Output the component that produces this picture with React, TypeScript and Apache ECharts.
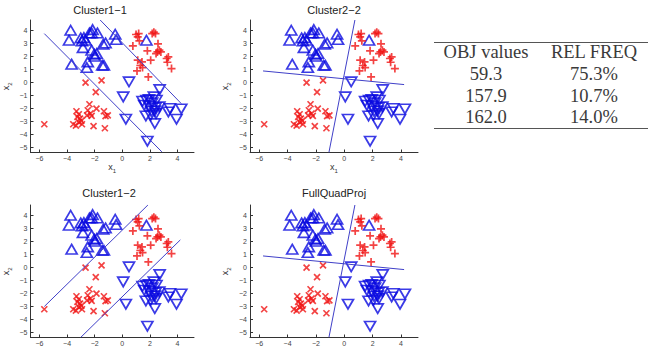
import React, { useEffect, useRef } from "react";
import * as echarts from "echarts";

// ---- data (same points in every panel) ----
const upTriangles: number[][] = [
  [-3.74, 4.01], [-3.86, 3.24], [-3.67, 1.39], [-3.01, 3.42], [-2.78, 3.44],
  [-2.92, 3.19], [-2.66, 3.24], [-2.85, 2.67], [-2.38, 3.8], [-2.15, 4.06],
  [-2.22, 3.8], [-1.8, 3.8], [-2.22, 2.47], [-2.03, 2.16], [-1.85, 2.21],
  [-1.99, 2.0], [-2.5, 1.57], [-2.57, 1.13], [-1.38, 2.93], [-1.21, 3.03],
  [-1.45, 1.31], [-1.33, 1.31], [-0.51, 3.7], [-0.44, 3.29], [1.75, 3.24],
];
const downTriangles: number[][] = [
  [0.49, 0.03], [0.07, -1.13], [0.26, -2.85], [1.82, -4.55], [2.71, -0.57],
  [1.47, -1.47], [1.75, -1.39], [1.94, -1.34], [2.29, -1.13], [2.48, -1.39],
  [1.59, -1.77], [1.94, -1.85], [2.17, -1.59], [2.41, -1.98], [2.69, -1.9],
  [2.1, -2.24], [2.36, -2.21], [1.71, -2.6], [2.45, -2.42], [2.36, -3.19],
  [3.46, -2.03], [3.34, -2.29], [4.28, -2.06], [3.93, -2.85], [2.06, -2.55],
];
const redCrosses: number[][] = [
  [-5.65, -3.24], [-2.66, -0.03], [-1.5, 0.15], [-1.92, -0.77], [-3.32, -2.24],
  [-3.15, -2.47], [-3.25, -2.67], [-3.06, -2.8], [-2.97, -2.98], [-2.92, -3.24],
  [-3.55, -3.24], [-3.36, -3.34], [-3.15, -3.08], [-2.38, -1.7], [-2.5, -2.16],
  [-2.31, -2.42], [-2.22, -2.6], [-2.55, -2.55], [-1.87, -2.03], [-2.08, -3.39],
  [-1.33, -2.24], [-1.21, -2.62], [-1.05, -2.55], [-1.26, -3.55],
];
const redPluses: number[][] = [
  [1.0, 3.68], [1.19, 3.75], [1.12, 3.5], [0.77, 2.8], [1.24, 3.19],
  [2.17, 3.75], [2.29, 3.86], [2.41, 3.75], [2.59, 2.96], [2.55, 2.34],
  [2.69, 2.47], [2.8, 2.34], [2.45, 2.21], [1.82, 2.42], [1.12, 1.7],
  [1.43, 1.57], [1.31, 1.29], [1.07, 0.87], [2.06, 1.7], [1.89, 0.41],
  [3.22, 1.83], [3.34, 1.95], [3.27, 1.54], [3.57, 1.05], [1.47, 1.13],
];

// separating lines per panel (end points in data units)
const linesCluster11: number[][][] = [
  [[-5.65, 3.75], [2.87, -5.37]],
  [[-1.6, 4.8], [4.28, -1.65]],
];
const linesCluster22: number[][][] = [
  [[0.75, 4.8], [-1.08, -5.4]],
  [[-5.73, 0.87], [4.22, -0.18]],
];
const linesCluster12: number[][][] = [
  [[-5.65, -3.03], [1.86, 4.8]],
  [[-3.0, -5.4], [4.21, 2.11]],
];
const linesFullQuad: number[][][] = [
  [[0.75, 4.8], [-1.08, -5.4]],
  [[-5.73, 0.87], [4.22, -0.18]],
];

const panelTitles = ["Cluster1\u22121", "Cluster2\u22122", "Cluster1\u22122", "FullQuadProj"];
const xTicks = [-6, -4, -2, 0, 2, 4];
const yTicks = [-5, -4, -3, -2, -1, 0, 1, 2, 3, 4];

const tableHeader = ["OBJ values", "REL FREQ"];
const objValues = ["59.3", "157.9", "162.0"];
const relFreq = ["75.3%", "10.7%", "14.0%"];

const BLUE = "#0a0ae0";
const LINEBLUE = "#4040c8";
const RED = "#f01414";
const AXIS = "#333333";

export default function App() {
  const ref = useRef<HTMLDivElement>(null);

  useEffect(() => {
    if (!ref.current) return;
    const chart = echarts.init(ref.current, null, { renderer: "svg" });

    const grids = [
      { left: 24, top: 20, width: 170, height: 132.5 },
      { left: 250, top: 20, width: 168, height: 132.5 },
      { left: 24, top: 205, width: 170, height: 132.5 },
      { left: 250, top: 205, width: 168, height: 132.5 },
    ];
    const panelLines = [linesCluster11, linesCluster22, linesCluster12, linesFullQuad];
    const titlePos = [[100, 10], [334, 10], [109, 193], [334, 193]];

    const minus = (v: number) => String(v).replace("-", "\u2212");
    const labelRich = {
      i: { fontSize: 9, fontFamily: "Liberation Sans", color: "#333", lineHeight: 14, verticalAlign: "middle" },
      s: { fontSize: 6, fontFamily: "Liberation Sans", color: "#333", lineHeight: 6, verticalAlign: "bottom" },
    };

    const xAxis: any[] = [];
    const yAxis: any[] = [];
    const series: any[] = [];

    grids.forEach((g, k) => {
      const top = k < 2;
      xAxis.push({
        type: "value",
        gridIndex: k,
        min: -6.65,
        max: 5.2,
        name: top ? "{i|x}{s|1}" : "",
        nameLocation: "middle",
        nameGap: 7,
        nameTextStyle: { rich: labelRich },
        axisLine: { show: true, onZero: false, lineStyle: { color: AXIS, width: 1 } },
        axisTick: { show: true, inside: true, length: 3, customValues: xTicks, lineStyle: { color: AXIS } },
        axisLabel: {
          customValues: xTicks,
          fontSize: 7,
          fontFamily: "Liberation Sans",
          color: "#444",
          margin: 2,
          formatter: minus,
        },
        splitLine: { show: false },
      });
      yAxis.push({
        type: "value",
        gridIndex: k,
        min: -5.42,
        max: 4.8,
        name: "{i|x}{s|2}",
        nameLocation: "middle",
        nameGap: 18,
        nameRotate: 90,
        nameTextStyle: { rich: labelRich },
        axisLine: { show: true, onZero: false, lineStyle: { color: AXIS, width: 1 } },
        axisTick: { show: true, inside: true, length: 3, customValues: yTicks, lineStyle: { color: AXIS } },
        axisLabel: {
          customValues: yTicks,
          fontSize: 7,
          fontFamily: "Liberation Sans",
          color: "#444",
          margin: 3,
          formatter: minus,
        },
        splitLine: { show: false },
      });

      series.push({
        type: "scatter",
        xAxisIndex: k,
        yAxisIndex: k,
        data: upTriangles,
        symbol: "triangle",
        symbolSize: [11, 9.5],
        itemStyle: { color: "rgba(0,0,0,0)", borderColor: BLUE, borderWidth: 1.7 },
      });
      series.push({
        type: "scatter",
        xAxisIndex: k,
        yAxisIndex: k,
        data: downTriangles,
        symbol: "triangle",
        symbolRotate: 180,
        symbolSize: [11, 9.5],
        itemStyle: { color: "rgba(0,0,0,0)", borderColor: BLUE, borderWidth: 1.7 },
      });
      series.push({
        type: "scatter",
        xAxisIndex: k,
        yAxisIndex: k,
        data: redCrosses,
        symbol: "path://M0,0L10,10M10,0L0,10",
        symbolSize: 6,
        itemStyle: { color: "rgba(0,0,0,0)", borderColor: RED, borderWidth: 1.7 },
      });
      series.push({
        type: "scatter",
        xAxisIndex: k,
        yAxisIndex: k,
        data: redPluses,
        symbol: "path://M5,0L5,10M0,5L10,5",
        symbolSize: 8,
        itemStyle: { color: "rgba(0,0,0,0)", borderColor: RED, borderWidth: 1.7 },
      });
      panelLines[k].forEach((seg) => {
        series.push({
          type: "line",
          xAxisIndex: k,
          yAxisIndex: k,
          data: seg,
          showSymbol: false,
          symbol: "none",
          clip: true,
          lineStyle: { color: LINEBLUE, width: 1 },
          z: 3,
        });
      });
    });

    const graphic: any[] = [];
    panelTitles.forEach((t, k) => {
      graphic.push({
        type: "text",
        x: titlePos[k][0],
        y: titlePos[k][1],
        style: {
          text: t,
          fontSize: 11,
          fontFamily: "Liberation Sans",
          fill: "#222",
          textAlign: "center",
          textVerticalAlign: "middle",
          align: "center",
          verticalAlign: "middle",
        },
      });
    });

    // table
    const colX = [486, 594];
    const rowY = [52, 73.5, 96, 117];
    const tfont = { fontSize: 18.5, fontFamily: "Liberation Serif", fill: "#3a3a3a" };
    const addText = (text: string, x: number, y: number) =>
      graphic.push({
        type: "text",
        x,
        y,
        style: { ...tfont, text, textAlign: "center", textVerticalAlign: "middle", align: "center", verticalAlign: "middle" },
      });
    tableHeader.forEach((h, c) => addText(h, colX[c], rowY[0]));
    objValues.forEach((v, r) => addText(v, colX[0], rowY[r + 1]));
    relFreq.forEach((v, r) => addText(v, colX[1], rowY[r + 1]));
    graphic.push({ type: "line", shape: { x1: 434, y1: 42.5, x2: 648, y2: 42.5 }, style: { stroke: "#555", lineWidth: 1 } });
    graphic.push({ type: "line", shape: { x1: 434, y1: 128.5, x2: 648, y2: 128.5 }, style: { stroke: "#555", lineWidth: 1 } });

    chart.setOption({
      animation: false,
      backgroundColor: "#ffffff",
      grid: grids,
      xAxis,
      yAxis,
      series,
      graphic,
    });

    return () => chart.dispose();
  }, []);

  return (
    <div
      ref={ref}
      style={{ position: "fixed", left: 0, top: 0, width: 650, height: 348, background: "#fff" }}
    />
  );
}
